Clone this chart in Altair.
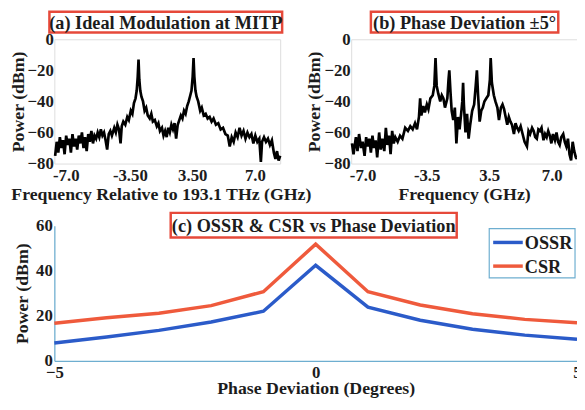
import altair as alt
import pandas as pd

# ---------------- data ----------------
a_freq = [-14.1, -13.9, -13.7, -13.5, -13.3, -13.1, -12.9, -12.7, -12.5, -12.3, -12.1, -11.9, -11.7, -11.5,
          -11.3, -11.1, -10.9, -10.7, -10.5, -10.3, -10.1, -9.9, -9.7, -9.5, -9.3, -9.1, -8.9, -8.7, -8.5,
          -8.3, -8.1, -7.9, -7.7, -7.5, -7.3, -7.1, -6.9, -6.6, -6.4, -6.2, -6.0, -5.8, -5.65, -5.45, -5.2,
          -4.95, -4.75, -4.5, -4.3, -4.1, -3.9, -3.75, -3.62, -3.52, -3.42, -3.3, -3.15, -2.95, -2.75, -2.55,
          -2.35, -2.1, -1.9, -1.7, -1.45, -1.2, -1.0, -0.8, -0.55, -0.35, -0.15, 0.05, 0.25, 0.45, 0.65, 0.85,
          1.05, 1.25, 1.45, 1.65, 1.85, 2.05, 2.25, 2.45, 2.65, 2.85, 3.05, 3.2, 3.35, 3.46, 3.56, 3.7, 3.85,
          4.05, 4.3, 4.5, 4.75, 5.0, 5.25, 5.5, 5.75, 6.0, 6.3, 6.6, 6.9, 7.2, 7.5, 7.8, 8.05, 8.3, 8.55, 8.8,
          9.05, 9.3, 9.55, 9.8, 10.05, 10.3, 10.55, 10.8, 11.05, 11.3, 11.55, 11.8, 12.0, 12.15, 12.4, 12.65,
          12.9, 13.15, 13.4, 13.65, 13.85, 14.05, 14.25, 14.45]
a_power = [-75, -66, -73, -63, -70, -65, -74, -62, -68, -64, -73, -61, -69, -64,
           -71, -62, -67, -60, -70, -63, -72, -61, -66, -59, -67, -62, -64, -60, -63,
           -58, -62, -60, -65, -71, -61, -59, -62, -57, -60, -55, -58, -67, -56, -53, -55,
           -50, -52, -46, -48, -41, -38, -33, -24, -13, -26, -33, -37, -40, -46, -44,
           -49, -51, -48, -53, -52, -56, -54, -59, -57, -62, -59, -63, -57, -60, -55, -58,
           -54, -64, -55, -52, -49, -51, -46, -48, -43, -40, -36, -33, -24, -12, -24, -33, -37,
           -40, -46, -44, -49, -48, -51, -50, -53, -51, -55, -54, -58, -57, -61, -62, -69, -63, -66, -60,
           -63, -57, -62, -59, -64, -60, -63, -61, -67, -62, -66, -64, -79, -66, -63, -66,
           -64, -68, -65, -73, -77, -72, -78, -75]

b_freq = [-14.1, -13.9, -13.6, -13.4, -13.2, -12.95, -12.75, -12.5, -12.3, -12.1, -11.9, -11.7, -11.5, -11.3,
          -11.1, -10.9, -10.65, -10.45, -10.25, -10.0, -9.8, -9.6, -9.4, -9.2, -9.0, -8.8, -8.6, -8.3, -8.0,
          -7.7, -7.35, -7.0, -6.7, -6.4, -6.1, -5.85, -5.6, -5.45, -5.3, -5.05, -4.85, -4.6, -4.4, -4.15,
          -3.85, -3.65, -3.5, -3.35, -3.15, -2.9, -2.7, -2.5, -2.3, -2.0, -1.85, -1.75, -1.6, -1.45, -1.25,
          -1.05, -0.85, -0.65, -0.45, -0.25, -0.1, 0.0, 0.1, 0.3, 0.5, 0.7, 0.9, 1.15, 1.4, 1.6, 1.75, 1.9,
          2.1, 2.3, 2.5, 2.7, 2.95, 3.2, 3.4, 3.5, 3.65, 3.9, 4.1, 4.35, 4.55, 4.8, 5.0, 5.2, 5.4, 5.6, 5.8,
          6.0, 6.2, 6.45, 6.65, 6.85, 7.05, 7.3, 7.5, 7.8, 8.1, 8.3, 8.5, 8.75, 8.95, 9.15, 9.35, 9.55, 9.75,
          9.95, 10.2, 10.4, 10.6, 10.8, 11.0, 11.2, 11.4, 11.65, 11.85, 12.05, 12.25, 12.45, 12.7, 12.9,
          13.1, 13.3, 13.5, 13.7, 13.9, 14.1, 14.3, 14.45]
b_power = [-67, -74, -63, -72, -61, -70, -66, -75, -63, -69, -64, -73, -62, -70,
           -65, -76, -60, -71, -64, -72, -57, -68, -62, -74, -59, -67, -63, -66, -62,
           -64, -57, -59, -56, -58, -54, -58, -50, -38, -49, -43, -47, -42, -45, -38,
           -36, -30, -12, -30, -35, -40, -36, -38, -44, -38, -26, -20, -34, -46, -52,
           -44, -67, -50, -58, -48, -40, -28, -42, -60, -48, -64, -55, -46, -42, -30, -20, -36,
           -53, -46, -44, -40, -38, -36, -26, -12, -28, -36, -40, -44, -52, -44, -42, -45, -50, -55, -50,
           -53, -55, -61, -54, -57, -59, -56, -60, -66, -69, -59, -61, -57, -59, -63, -64, -58, -59,
           -57, -65, -61, -63, -59, -62, -67, -61, -65, -60, -66, -68, -63, -61, -66,
           -69, -64, -74, -78, -66, -72, -76, -77]

freq_tick_pos = [-12.75, -4.625, 3.3, 11.25]
a_tick_labels = ["-7.0", "-3.50", "3.50", "7.0"]
b_tick_labels = ["-7.0", "-3.5", "3.5", "7.0"]
power_ticks = [0, -20, -40, -60, -80]

phase = [-5, -4, -3, -2, -1, 0, 1, 2, 3, 4, 5]
ossr = [7.9, 10.6, 13.5, 17.2, 22.0, 42.4, 23.8, 18.0, 14.0, 11.4, 9.6]
csr = [16.7, 19.1, 21.1, 24.5, 30.7, 51.8, 30.7, 24.8, 20.9, 18.4, 16.9]
phase_ticks = [-5, 0, 5]
ratio_ticks = [0, 20, 40, 60]
series_names = ["OSSR", "CSR"]
series_colors = ["#2b5bc9", "#ef5a3c"]

titles = ["(a) Ideal Modulation at MITP", "(b) Phase Deviation \u00b15\u00b0",
          "(c) OSSR & CSR vs Phase Deviation"]

# ---------------- style ----------------
SERIF = "Liberation Serif"
AX = "#6eaed0"
INK = "#1c1c1c"
BOX = "#e6493a"


def label_expr(labels):
    arr = "[" + ",".join(str(v) for v in freq_tick_pos) + "]"
    lab = "[" + ",".join("'" + s + "'" for s in labels) + "]"
    return f"{lab}[indexof({arr}, datum.value)]"


def common_axis(**kw):
    base = dict(labelFont=SERIF, labelFontWeight="bold", labelColor=INK,
                titleFont=SERIF, titleFontWeight="bold", titleColor=INK,
                ticks=False, grid=False, titleLimit=500, labelLimit=200, labelOverlap=False)
    base.update(kw)
    return alt.Axis(**base)


def title_box(text, x1, x2, y1, y2, fs=18.5):
    df = pd.DataFrame({"t": [text]})
    rect = alt.Chart(df).mark_rect(fill="white", stroke=BOX, strokeWidth=2.5).encode(
        x=alt.value(x1), x2=alt.value(x2), y=alt.value(y1), y2=alt.value(y2))
    txt = alt.Chart(df).mark_text(font=SERIF, fontWeight="bold", fontSize=fs, color=INK,
                                  baseline="middle", align="center").encode(
        x=alt.value((x1 + x2) / 2), y=alt.value((y1 + y2) / 2 + 1), text="t:N")
    return rect, txt


def spectrum(freq, power, tick_labels, xtitle, title, bx1, bx2, **xextra):
    df = pd.DataFrame({"f": freq, "p": power})
    line = alt.Chart(df).mark_line(color="black", strokeWidth=2.7).encode(
        x=alt.X("f:Q", scale=alt.Scale(domain=[-14.2, 14.45], nice=False, zero=False),
                axis=common_axis(values=freq_tick_pos, labelExpr=label_expr(tick_labels),
                                 title=xtitle, labelFontSize=17, titleFontSize=18,
                                 labelPadding=4, titlePadding=2, domain=False, **xextra)),
        y=alt.Y("p:Q", scale=alt.Scale(domain=[-80, 0], nice=False),
                axis=common_axis(values=power_ticks, title="Power (dBm)", labelFontSize=17,
                                 titleFontSize=18, labelPadding=1, titlePadding=0, domain=False)),
    )
    rect, txt = title_box(title, bx1, bx2, -28, -7)
    return alt.layer(line, rect, txt).properties(width=229, height=126)


pa = spectrum(a_freq, a_power, a_tick_labels, "Frequency Relative to 193.1 THz (GHz)", titles[0], -5, 231,
              titleX=108)
pb = spectrum(b_freq, b_power, b_tick_labels, "Frequency (GHz)", titles[1], 20, 210)

rows = []
for name, vals in zip(series_names, [ossr, csr]):
    for ph, v in zip(phase, vals):
        rows.append({"phase": ph, "val": v, "series": name})
dfc = pd.DataFrame(rows)

color_scale = alt.Scale(domain=series_names, range=series_colors)
linec = alt.Chart(dfc).mark_line(strokeWidth=3.5).encode(
    x=alt.X("phase:Q", scale=alt.Scale(domain=[-5, 5], nice=False),
            axis=common_axis(values=phase_ticks, title="Phase Deviation (Degrees)", labelFontSize=17,
                             titleFontSize=18, labelPadding=4, titleY=33, titleBaseline="alphabetic",
                             labelFlush=False, labelBound=False, domain=True, domainColor=AX,
                             domainWidth=1.3)),
    y=alt.Y("val:Q", scale=alt.Scale(domain=[0, 60], nice=False),
            axis=common_axis(values=ratio_ticks, title="Power (dBm)", labelFontSize=17,
                             titleFontSize=18, labelPadding=2, titlePadding=4, domain=True,
                             domainColor=AX, domainWidth=1.3)),
    color=alt.Color("series:N", scale=color_scale, sort=series_names, legend=None),
)
rc, tc = title_box(titles[2], 118, 408, -13, 12)

# hand-drawn legend box (MATLAB style)
leg_box = alt.Chart(pd.DataFrame({"k": [0]})).mark_rect(
    fill="white", stroke=AX, strokeWidth=1.2).encode(
    x=alt.value(441), x2=alt.value(528), y=alt.value(3), y2=alt.value(53))
leg_layers = [leg_box]
for i, name in enumerate(series_names):
    d = pd.DataFrame({"series": [name]})
    yy = 17 + 24 * i
    leg_layers.append(alt.Chart(d).mark_rule(strokeWidth=3.5).encode(
        x=alt.value(445), x2=alt.value(475), y=alt.value(yy),
        color=alt.Color("series:N", scale=color_scale, legend=None)))
    leg_layers.append(alt.Chart(d).mark_text(
        font=SERIF, fontWeight="bold", fontSize=18.5, color=INK, align="left",
        baseline="middle").encode(x=alt.value(477), y=alt.value(yy + 1), text="series:N"))

pc = alt.layer(linec, rc, tc, *leg_layers).properties(
    width=530, height=137, view=alt.ViewBackground(strokeOpacity=0))

top = alt.hconcat(pa, pb, spacing=72, bounds="flush")
chart = alt.vconcat(top, pc, spacing=189, bounds="flush").properties(
    autosize=alt.AutoSizeParams(type="none"),
    padding={"left": 47, "top": 29, "right": 530, "bottom": 361}).configure_view(
    stroke=AX, strokeWidth=1.3).configure(background="white")

chart.save("out.html", embed_options={"renderer": "svg", "actions": False})
